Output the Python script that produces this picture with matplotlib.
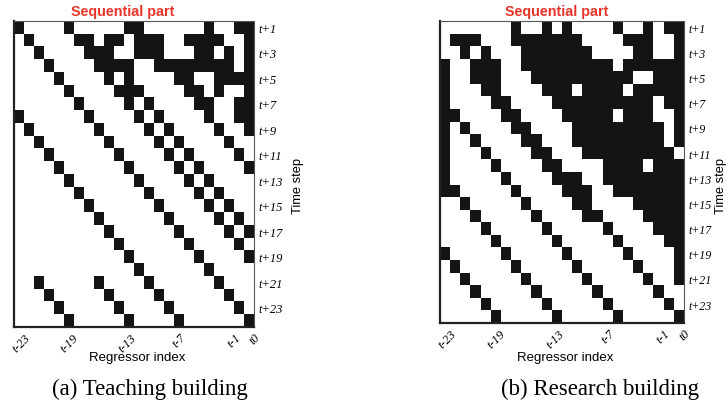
import numpy as np
import matplotlib
matplotlib.use("Agg")
import matplotlib.pyplot as plt
from matplotlib.colors import ListedColormap

# Selected regressors (column indices, 0 = t-23 ... 23 = t0) for each forecast step t+1 ... t+24
teaching_selected = [
    [0, 5, 11, 12, 19, 22, 23],
    [1, 6, 7, 9, 10, 12, 13, 14, 17, 18, 19, 20, 23],
    [2, 7, 8, 9, 12, 13, 14, 18, 19, 21, 23],
    [3, 8, 9, 10, 11, 14, 15, 16, 17, 18, 19, 20, 21, 23],
    [4, 9, 11, 16, 17, 20, 21, 22, 23],
    [5, 10, 11, 12, 17, 18, 20, 23],
    [6, 11, 13, 18, 19, 22, 23],
    [0, 7, 12, 14, 19, 22, 23],
    [1, 8, 13, 15, 20, 23],
    [2, 9, 14, 16, 21],
    [3, 10, 15, 17, 22],
    [4, 11, 16, 18, 23],
    [5, 12, 17, 19],
    [6, 13, 18, 20],
    [7, 14, 19, 21],
    [8, 15, 20, 22],
    [9, 16, 21, 23],
    [10, 17, 22],
    [11, 18, 23],
    [12, 19],
    [2, 8, 13, 20],
    [3, 9, 14, 21],
    [4, 10, 15, 22],
    [5, 11, 16, 23],
]

research_selected = [
    [7, 10, 12, 17, 20, 22, 23],
    [1, 2, 3, 7, 8, 9, 10, 11, 12, 13, 18, 19, 20, 23],
    [2, 4, 8, 9, 10, 11, 12, 13, 14, 19, 20, 23],
    [0, 3, 4, 5, 8, 9, 10, 11, 12, 13, 14, 15, 16, 18, 19, 20, 21, 22, 23],
    [0, 3, 4, 5, 9, 10, 11, 12, 13, 14, 15, 16, 17, 18, 21, 22, 23],
    [0, 4, 5, 10, 11, 12, 14, 15, 16, 17, 19, 20, 21, 22, 23],
    [0, 5, 6, 11, 12, 13, 14, 15, 16, 17, 18, 19, 20, 22, 23],
    [0, 1, 6, 7, 12, 13, 14, 15, 16, 18, 19, 20, 23],
    [0, 2, 7, 8, 13, 14, 15, 16, 17, 18, 19, 20, 21, 23],
    [0, 3, 8, 9, 13, 14, 15, 16, 17, 18, 19, 20, 21, 23],
    [0, 4, 9, 10, 14, 15, 16, 17, 18, 19, 20, 21, 22],
    [0, 5, 10, 11, 16, 17, 18, 19, 21, 22, 23],
    [0, 6, 11, 12, 13, 16, 17, 18, 19, 20, 21, 22, 23],
    [0, 1, 7, 12, 13, 14, 17, 18, 19, 20, 21, 22, 23],
    [2, 8, 13, 14, 19, 20, 21, 22, 23],
    [3, 9, 14, 15, 20, 21, 22, 23],
    [4, 10, 16, 21, 22, 23],
    [5, 11, 17, 22, 23],
    [0, 6, 12, 18, 23],
    [1, 7, 13, 19, 23],
    [2, 8, 14, 20, 23],
    [3, 9, 15, 21],
    [4, 10, 16, 22],
    [5, 11, 17, 23],
]

regressor_labels = ["t-23", "t-19", "t-13", "t-7", "t-1", "t0"]
step_labels = ["t+1", "t+3", "t+5", "t+7", "t+9", "t+11",
               "t+13", "t+15", "t+17", "t+19", "t+21", "t+23"]
captions = ["(a) Teaching building", "(b) Research building"]
panel_title = "Sequential part"

n_steps, n_regs = 24, 24


def to_matrix(selected):
    m = np.zeros((n_steps, n_regs))
    for r, cols in enumerate(selected):
        m[r, cols] = 1
    return m


cmap = ListedColormap(["white", "#141414"])
serif = "Liberation Serif"
sans = "Liberation Sans"

fig = plt.figure(figsize=(7.27, 4.10), dpi=100)
W, H = 727, 410

# per panel: axes box in pixels (left, top, right, bottom),
# x of the "Time step" label, x of the caption centre
panels = [
    dict(box=(14, 22, 254, 328), ylab_x=298, cap_x=150, title_dx=-11, tick_fs=9),
    dict(box=(440, 22, 684, 324), ylab_x=721, cap_x=600, title_dx=-5, tick_fs=8.6),
]
reg_tick_pos = [0.5, 5.35, 11.2, 16.15, 21.6, 23.55]

for k, (sel, p) in enumerate(zip([teaching_selected, research_selected], panels)):
    x0, y0, x1, y1 = p["box"]
    ax = fig.add_axes([x0 / W, 1 - y1 / H, (x1 - x0) / W, (y1 - y0) / H])
    ax.imshow(to_matrix(sel), cmap=cmap, vmin=0, vmax=1, aspect="auto",
              interpolation="nearest")
    ax.set_xlim(-0.5, n_regs - 0.5)
    ax.set_ylim(n_steps - 0.5, -0.5)

    ax.set_xticks(reg_tick_pos)
    ax.set_xticklabels(regressor_labels, rotation=45, ha="right",
                       rotation_mode="anchor", fontsize=9, family=serif,
                       style="italic")
    ax.yaxis.tick_right()
    ax.set_yticks(np.arange(0, n_steps, 2))
    ax.set_yticklabels(step_labels, fontsize=p["tick_fs"], family=serif,
                       style="italic")
    ax.tick_params(length=0, pad=3)

    for side in ["left", "bottom"]:
        ax.spines[side].set_linewidth(1.6)
        ax.spines[side].set_color("#222222")
    for side in ["top", "right"]:
        ax.spines[side].set_linewidth(0.8)
        ax.spines[side].set_color("#555555")

    cx = (x0 + x1) / 2
    fig.text((cx + p["title_dx"]) / W, 1 - 12 / H, panel_title, color="#e8352b",
             fontsize=10.3, fontweight="bold", family=sans,
             ha="center", va="center")
    fig.text((cx + 3) / W, 1 - 358 / H, "Regressor index", fontsize=9.5,
             family=sans, ha="center", va="center")
    fig.text(p["ylab_x"] / W, 1 - 186 / H, "Time step", fontsize=9.3,
             family=sans, rotation=90, ha="center", va="center")
    fig.text(p["cap_x"] / W, 1 - 389 / H, captions[k], fontsize=16.5,
             family=serif, ha="center", va="center")

fig.savefig("out.png", dpi=100)
